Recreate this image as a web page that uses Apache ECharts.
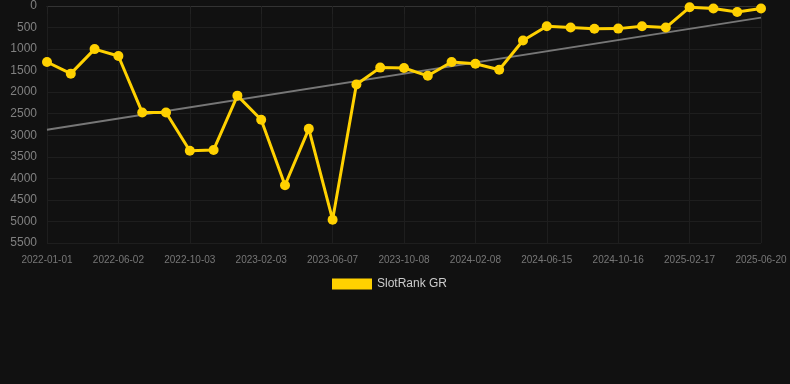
<!DOCTYPE html>
<html>
<head>
<meta charset="utf-8">
<script src="https://cdn.jsdelivr.net/npm/echarts@6/dist/echarts.min.js"></script>
<style>
html,body{margin:0;padding:0;background:#111111;}
#chart{width:790px;height:384px;}
</style>
</head>
<body>
<div id="chart"></div>
<script>
var categories = [
  '2022-01-01','2022-02-21','2022-04-12','2022-06-02','2022-07-13','2022-08-23',
  '2022-10-03','2022-11-13','2022-12-24','2023-02-03','2023-03-16','2023-04-27',
  '2023-06-07','2023-07-18','2023-08-28','2023-10-08','2023-11-18','2023-12-29',
  '2024-02-08','2024-03-20','2024-05-01','2024-06-15','2024-07-26','2024-09-05',
  '2024-10-16','2024-11-26','2025-01-07','2025-02-17','2025-03-30','2025-05-10',
  '2025-06-20'
];
var rankValues = [
  1300, 1570, 1000, 1160, 2470, 2470,
  3360, 3340, 2080, 2640, 4160, 2850,
  4960, 1820, 1430, 1440, 1620, 1300,
  1340, 1480, 800, 470, 500, 530,
  525, 470, 500, 30, 60, 140,
  60
];
var trendStart = 2870;
var trendEnd = 270;
var yTicks = { min: 0, max: 5500, interval: 500 };

var trendData = [[0, trendStart], [categories.length - 1, trendEnd]];

var chart = echarts.init(document.getElementById('chart'), null, { renderer: 'canvas' });
chart.setOption({
  backgroundColor: '#111111',
  animation: false,
  grid: { left: 47, right: 29, top: 6, bottom: 141, containLabel: false },
  legend: {
    data: ['SlotRank GR'],
    top: 273,
    left: 327,
    itemWidth: 40,
    itemHeight: 11,
    itemGap: 10,
    icon: 'rect',
    textStyle: { color: '#cccccc', fontSize: 12, fontFamily: 'Liberation Sans, Arial, sans-serif' }
  },
  xAxis: {
    type: 'category',
    data: categories,
    boundaryGap: false,
    axisLine: { show: true, lineStyle: { color: '#333333' } },
    axisTick: { show: true, interval: 2, length: 8, lineStyle: { color: '#222222' } },
    axisLabel: { interval: 2, color: '#777777', fontSize: 10, margin: 12, fontFamily: 'Liberation Sans, Arial, sans-serif' },
    splitLine: { show: true, interval: 2, lineStyle: { color: '#1e1e1e', width: 1 } }
  },
  yAxis: {
    type: 'value',
    inverse: true,
    min: yTicks.min,
    max: yTicks.max,
    interval: yTicks.interval,
    axisLine: { show: false },
    axisTick: { show: false },
    axisLabel: {
      color: '#808080', fontSize: 12, margin: 10,
      fontFamily: 'Liberation Sans, Arial, sans-serif',
      formatter: function (v) { return String(v); }
    },
    splitLine: { show: true, lineStyle: { color: '#1e1e1e', width: 1 } }
  },
  series: [
    {
      name: 'Trend',
      type: 'line',
      data: trendData,
      symbol: 'none',
      silent: true,
      lineStyle: { color: '#777777', width: 2 },
      z: 1
    },
    {
      name: 'SlotRank GR',
      type: 'line',
      data: rankValues,
      symbol: 'circle',
      symbolSize: 10,
      itemStyle: { color: '#ffd100' },
      lineStyle: { color: '#ffd100', width: 3 },
      z: 2
    }
  ]
});
</script>
</body>
</html>
